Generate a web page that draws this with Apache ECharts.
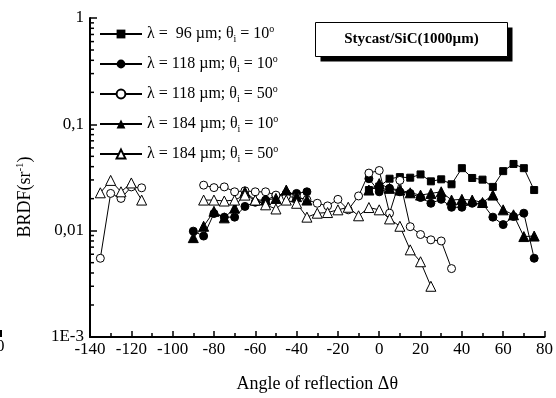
<!DOCTYPE html>
<html>
<head>
<meta charset="utf-8">
<script src="https://cdn.jsdelivr.net/npm/echarts@6/dist/echarts.min.js"></script>
<style>
  html, body { margin: 0; padding: 0; background: #fff; }
  #chart { width: 556px; height: 398px; }
</style>
</head>
<body>
<div id="chart"></div>
<script>
// series names (legend text)
const seriesNames = [
  "λ =  96 µm; θi = 10°",
  "λ = 118 µm; θi = 10°",
  "λ = 118 µm; θi = 50°",
  "λ = 184 µm; θi = 10°",
  "λ = 184 µm; θi = 50°"
];

// angles (deg) and BRDF values, null = gap in the curve
const anglesSq96 = [-5, 0, 5, 10, 15, 20, 25, 30, 35, 40, 45, 50, 55, 60, 65, 70, 75];
const brdfSq96 = [0.0241, 0.026, 0.0308, 0.0319, 0.0315, 0.0338, 0.0291, 0.0304, 0.0273, 0.0387, 0.0313, 0.0302, 0.0258, 0.0363, 0.0424, 0.0387, 0.0241];

const anglesDot118 = [-90, -85, -80, -75, -70, -65, -60, -55, -50, -45, -40, -35, -20,
  -5, 0, 5, 10, 15, 20, 25, 30, 35, 40, 45, 50, 55, 60, 65, 70, 75];
const brdfDot118 = [0.0099, 0.0089, 0.0145, 0.0134, 0.0134, 0.0169, 0.0185, 0.0194, 0.0213, 0.0224, 0.0224, 0.0232, null,
  0.0308, 0.0232, 0.025, 0.0232, 0.0224, 0.0205, 0.0181, 0.0197, 0.0166, 0.0166, 0.0181, 0.018, 0.0134, 0.0114, 0.0136, 0.0146, 0.0055];

const anglesCirc118 = [-135, -130, -125, -120, -115, -100,
  -85, -80, -75, -70, -65, -60, -55, -50, -45, -40, -35, -30, -25, -20, -15, -10, -5, 0, 5, 10, 15, 20, 25, 30, 35];
const brdfCirc118 = [0.0055, 0.0224, 0.0201, 0.0258, 0.0253, null,
  0.0268, 0.0254, 0.0258, 0.0232, 0.0237, 0.0232, 0.0232, 0.0216, 0.021, 0.0205, 0.0195, 0.0181, 0.0171, 0.0197, 0.0157, 0.0212, 0.0348, 0.0368, 0.0146, 0.0297, 0.0109, 0.0092, 0.0082, 0.008, 0.0044];

const anglesTri184 = [-90, -85, -80, -75, -70, -65, -60, -55, -50, -45, -40, -35, -20,
  -5, 0, 5, 10, 15, 20, 25, 30, 35, 40, 45, 50, 55, 60, 65, 70, 75];
const brdfTri184 = [0.0086, 0.011, 0.0152, 0.0132, 0.0163, 0.0232, 0.0194, 0.0194, 0.0201, 0.0241, 0.0209, 0.0194, null,
  0.0241, 0.0277, 0.025, 0.0241, 0.0227, 0.0216, 0.0224, 0.0232, 0.0194, 0.0197, 0.0194, 0.0184, 0.0216, 0.0157, 0.0141, 0.0088, 0.0089];

const anglesOTri184 = [-135, -130, -125, -120, -115, -100,
  -85, -80, -75, -70, -65, -60, -55, -50, -45, -40, -35, -30, -25, -20, -15, -10, -5, 0, 5, 10, 15, 20, 25];
const brdfOTri184 = [0.0227, 0.0297, 0.0232, 0.0281, 0.0194, null,
  0.0194, 0.0194, 0.019, 0.0194, 0.0216, 0.0194, 0.0175, 0.016, 0.0194, 0.0181, 0.0134, 0.0146, 0.0148, 0.0157, 0.0166, 0.0138, 0.0165, 0.0157, 0.0129, 0.011, 0.0066, 0.0051, 0.003];

// y axis tick labels by decade (log10)
const yDecades = [-3, -2, -1, 0];
const yTickLabels = ["1E-3", "0,01", "0,1", "1"];
// minor ticks of the log axis
const yMinorTicks = [
  0.002, 0.003, 0.004, 0.005, 0.006, 0.007, 0.008, 0.009,
  0.02, 0.03, 0.04, 0.05, 0.06, 0.07, 0.08, 0.09,
  0.2, 0.3, 0.4, 0.5, 0.6, 0.7, 0.8, 0.9
];

const FONT = "Liberation Serif";

function pairs(xs, ys) {
  return xs.map((x, i) => [x, ys[i] == null ? "-" : ys[i]]);
}

const chart = echarts.init(document.getElementById("chart"), null, { renderer: "canvas" });

const lineBase = {
  type: "line",
  symbolSize: 8,
  lineStyle: { color: "#000", width: 1 },
  connectNulls: false,
  z: 3
};

const option = {
  animation: false,
  backgroundColor: "#fff",
  grid: { left: 90, right: 8, top: 18, bottom: 55 },
  legend: {
    data: seriesNames,
    orient: "vertical",
    left: 94,
    top: 19,
    itemWidth: 42,
    itemHeight: 11,
    itemGap: 10,
    selectedMode: false,
    formatter: function (name) {
      const m = name.split("θi");
      return "{t|" + m[0] + "θ}{s|i}{t|" + m[1].replace("°", "") + "}{o|o}";
    },
    textStyle: {
      fontFamily: FONT,
      color: "#000",
      rich: {
        t: { fontFamily: FONT, fontSize: 16, color: "#000" },
        s: { fontFamily: FONT, fontSize: 10, color: "#000", padding: [10, 0, 0, 0] },
        o: { fontFamily: FONT, fontSize: 10, color: "#000", padding: [0, 0, 10, 0] }
      }
    }
  },
  xAxis: {
    type: "value",
    min: -140,
    max: 80,
    interval: 20,
    name: "Angle of reflection Δθ",
    nameLocation: "middle",
    nameGap: 38,
    nameTextStyle: { fontFamily: FONT, fontSize: 18, color: "#000" },
    axisLine: { onZero: false, lineStyle: { color: "#000", width: 2 } },
    axisTick: { inside: true, length: 6, lineStyle: { color: "#000", width: 1.5 } },
    minorTick: { show: true, splitNumber: 2, length: 4, lineStyle: { color: "#000", width: 1.5 } },
    axisLabel: { fontFamily: FONT, fontSize: 17, color: "#000", margin: 4 },
    splitLine: { show: false }
  },
  yAxis: {
    type: "log",
    logBase: 10,
    min: 0.001,
    max: 1,
    axisLine: { show: true, onZero: false, lineStyle: { color: "#000", width: 2 } },
    axisTick: { show: true, inside: true, length: 7, lineStyle: { color: "#000", width: 1.5 } },
    axisLabel: {
      fontFamily: FONT, fontSize: 17, color: "#000", margin: 6,
      formatter: function (v) {
        const d = Math.round(Math.log10(v));
        const i = yDecades.indexOf(d);
        return i >= 0 ? yTickLabels[i] : "";
      }
    },
    splitLine: { show: false }
  },
  graphic: [
    {
      type: "text",
      x: 25,
      y: 197,
      rotation: Math.PI / 2,
      style: {
        text: "{a|BRDF(sr}{b|-1}{a|)}",
        rich: {
          a: { fontFamily: FONT, fontSize: 18, fill: "#000" },
          b: { fontFamily: FONT, fontSize: 11, fill: "#000", padding: [0, 0, 10, 0] }
        },
        align: "center",
        verticalAlign: "middle"
      }
    },
    {
      type: "group",
      left: 315,
      top: 22,
      children: [
        { type: "rect", shape: { x: 5, y: 5, width: 192, height: 34 }, style: { fill: "#000" } },
        { type: "rect", shape: { x: 0, y: 0, width: 192, height: 34 }, style: { fill: "#fff", stroke: "#000", lineWidth: 1 } },
        {
          type: "text",
          x: 96,
          y: 17,
          style: {
            text: "Stycast/SiC(1000µm)",
            fontFamily: FONT,
            fontWeight: "bold",
            fontSize: 15,
            fill: "#000",
            align: "center",
            verticalAlign: "middle"
          }
        }
      ]
    },
    { type: "text", left: -4, top: 338, style: { text: "0", fontFamily: FONT, fontSize: 17, fill: "#000" } },
    { type: "rect", shape: { x: 0, y: 330, width: 2, height: 7 }, style: { fill: "#000" } }
  ],
  series: [
    Object.assign({}, lineBase, {
      name: seriesNames[0],
      symbol: "rect",
      symbolSize: 7,
      itemStyle: { color: "#000", borderColor: "#000" },
      data: pairs(anglesSq96, brdfSq96)
    }),
    Object.assign({}, lineBase, {
      name: seriesNames[1],
      symbol: "circle",
      itemStyle: { color: "#000", borderColor: "#000" },
      data: pairs(anglesDot118, brdfDot118)
    }),
    Object.assign({}, lineBase, {
      name: seriesNames[2],
      symbol: "circle",
      itemStyle: { color: "#fff", borderColor: "#000", borderWidth: 1 },
      data: pairs(anglesCirc118, brdfCirc118)
    }),
    Object.assign({}, lineBase, {
      name: seriesNames[3],
      symbol: "triangle",
      symbolSize: 10,
      itemStyle: { color: "#000", borderColor: "#000" },
      data: pairs(anglesTri184, brdfTri184)
    }),
    Object.assign({}, lineBase, {
      name: seriesNames[4],
      symbol: "triangle",
      symbolSize: 10,
      itemStyle: { color: "#fff", borderColor: "#000", borderWidth: 1 },
      data: pairs(anglesOTri184, brdfOTri184)
    }),
    {
      name: "yMinor",
      type: "custom",
      silent: true,
      clip: false,
      z: 5,
      data: yMinorTicks.map((v) => [-140, v]),
      renderItem: function (params, api) {
        const p = api.coord([api.value(0), api.value(1)]);
        return {
          type: "line",
          shape: { x1: p[0], y1: p[1], x2: p[0] + 4, y2: p[1] },
          style: { stroke: "#000", lineWidth: 1.5 }
        };
      }
    }
  ]
};

chart.setOption(option);
window.addEventListener("resize", () => chart.resize());
</script>
</body>
</html>
